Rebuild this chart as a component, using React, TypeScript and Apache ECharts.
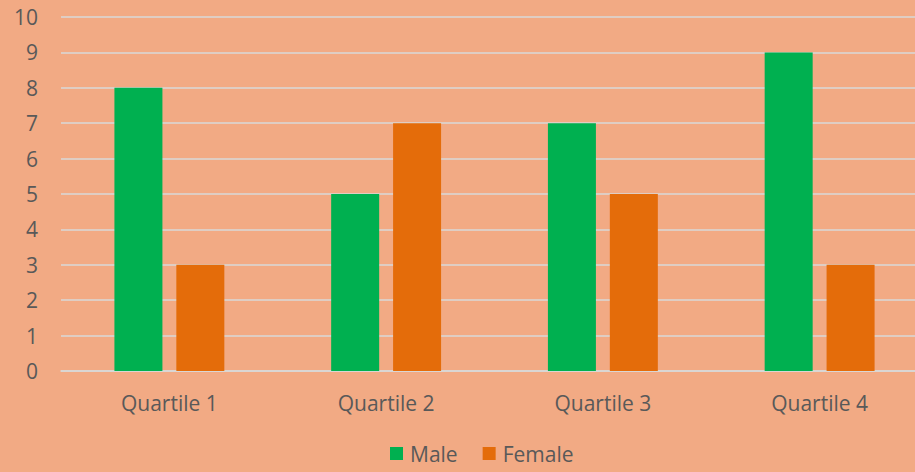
import React, { useEffect, useRef } from "react";
import * as echarts from "echarts";

const categories = ["Quartile 1", "Quartile 2", "Quartile 3", "Quartile 4"];
const maleValues = [8, 5, 7, 9];
const femaleValues = [3, 7, 5, 3];

export default function App() {
  const ref = useRef<HTMLDivElement>(null);
  useEffect(() => {
    const chart = echarts.init(ref.current!, null, { renderer: "svg" });
    const font = "'Open Sans', 'Noto Sans', sans-serif";
    chart.setOption({
      animation: false,
      backgroundColor: "#F2AA84",
      textStyle: { fontFamily: font },
      grid: { left: 61, right: 0, top: 17, bottom: 101, containLabel: false },
      legend: {
        data: ["Male", "Female"],
        top: 443,
        left: 390,
        padding: 0,
        itemWidth: 13,
        itemHeight: 13,
        itemGap: 25,
        icon: "rect",
        textStyle: { color: "#595959", fontSize: 21, fontFamily: font, padding: [0, 0, 0, 2] },
      },
      xAxis: {
        type: "category",
        data: categories,
        axisTick: { show: false },
        axisLine: { lineStyle: { color: "#D9D9D9", width: 1.5 } },
        axisLabel: { color: "#595959", fontSize: 21, margin: 21, fontFamily: font },
      },
      yAxis: {
        type: "value",
        min: 0,
        max: 10,
        interval: 1,
        axisLine: { show: false },
        axisTick: { show: false },
        axisLabel: { color: "#595959", fontSize: 21, margin: 23, fontFamily: font },
        splitLine: { lineStyle: { color: "#D9D9D9", width: 1.5 } },
      },
      series: [
        {
          name: "Male",
          type: "bar",
          data: maleValues,
          itemStyle: { color: "#00B050" },
          barWidth: 48,
          barGap: "29%",
        },
        {
          name: "Female",
          type: "bar",
          data: femaleValues,
          itemStyle: { color: "#E46C0A" },
          barWidth: 48,
          barGap: "29%",
        },
      ],
    });
    return () => chart.dispose();
  }, []);
  return (
    <div
      style={{
        position: "fixed",
        left: 0,
        top: 0,
        width: 915,
        height: 472,
        overflow: "hidden",
      }}
    >
      <div ref={ref} style={{ width: 928, height: 472 }} />
    </div>
  );
}
